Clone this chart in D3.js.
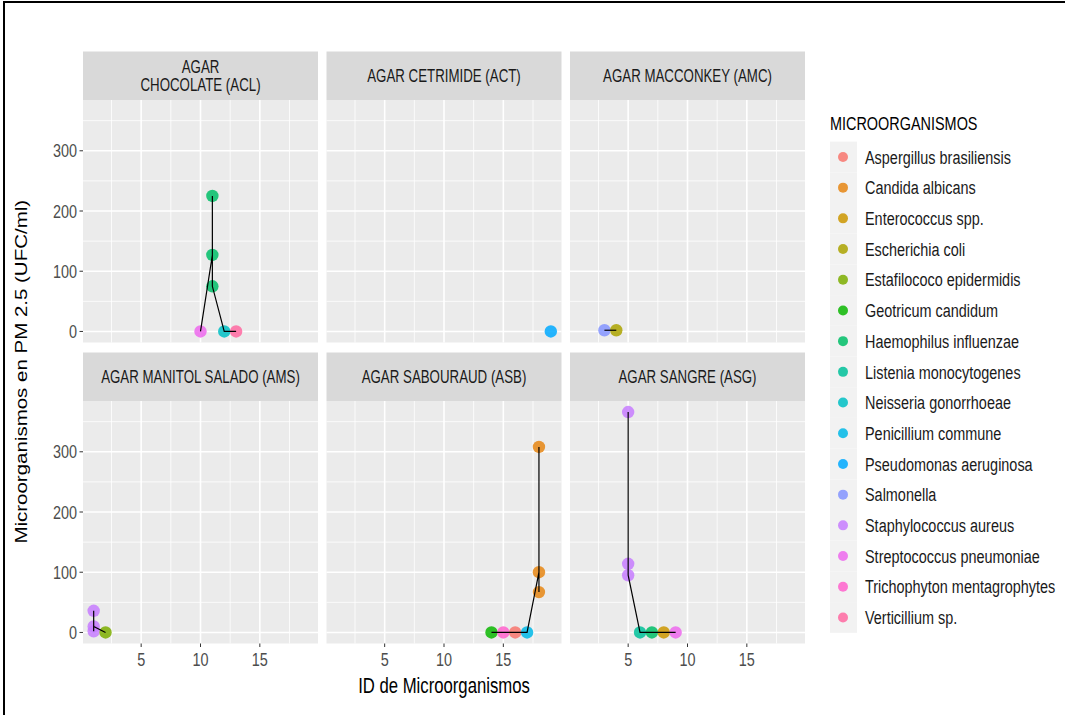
<!DOCTYPE html>
<html>
<head>
<meta charset="utf-8">
<script src="https://cdn.jsdelivr.net/npm/d3@7"></script>
<style>
  html, body { margin: 0; padding: 0; background: #fff; }
  svg { display: block; }
  text { font-family: "Liberation Sans", Arial, sans-serif; }
</style>
</head>
<body>
<svg id="chart" width="1065" height="715"></svg>
<script>
// ---------------- DATA ----------------
const facetLabels = [
  ["AGAR", "CHOCOLATE (ACL)"],
  ["AGAR CETRIMIDE (ACT)"],
  ["AGAR MACCONKEY (AMC)"],
  ["AGAR MANITOL SALADO (AMS)"],
  ["AGAR SABOURAUD (ASB)"],
  ["AGAR SANGRE (ASG)"]
];
const organisms = [
  "Aspergillus brasiliensis", "Candida albicans", "Enterococcus spp.", "Escherichia coli",
  "Estafilococo epidermidis", "Geotricum candidum", "Haemophilus influenzae", "Listenia monocytogenes",
  "Neisseria  gonorrhoeae", "Penicillium commune", "Pseudomonas aeruginosa", "Salmonella",
  "Staphylococcus aureus", "Streptococcus pneumoniae", "Trichophyton mentagrophytes", "Verticillium sp."
];
// one entry per observation (data order matters for the line)
const obsFacet = [0,0,0,0,0,0, 1, 2,2, 3,3,3,3, 4,4,4,4,4,4,4, 5,5,5,5,5,5,5];
const obsId    = [10,11,11,11,12,13, 19, 3,4, 1,1,1,2, 14,15,16,17,18,18,18, 5,5,5,6,7,8,9];
const obsOrg   = [13,6,6,6,8,15, 10, 11,3, 12,12,12,4, 5,14,0,9,1,1,1, 12,12,12,7,6,2,13];
const obsValue = [0,127,225,75,0,0, 0, 2,2, 36,2,10,0, 0,0,0,0,100,308,67, 366,114,95,0,0,0,0];
const xTicks = [5, 10, 15];
const yTicks = [0, 100, 200, 300];
const xMinor = [2.5, 7.5, 12.5, 17.5];
const yMinor = [50, 150, 250, 350];

// ---------------- COLOURS (ggplot hue palette, polar LUV) ----------------
function hclR(h, c, l) {
  const WX = 95.047, WY = 100.0, WZ = 108.883;
  const hr = h * Math.PI / 180;
  const U = c * Math.cos(hr), V = c * Math.sin(hr);
  const Y = l > 7.999592 ? WY * Math.pow((l + 16) / 116, 3) : WY * l / 903.3;
  const den = WX + 15 * WY + 3 * WZ;
  const uN = 4 * WX / den, vN = 9 * WY / den;
  const u = U / (13 * l) + uN, v = V / (13 * l) + vN;
  const X = 9.0 * Y * u / (4 * v);
  const Z = -X / 3 - 5 * Y + 3 * Y / v;
  const g = t => t > 0.00304 ? 1.055 * Math.pow(t, 1 / 2.4) - 0.055 : 12.92 * t;
  const cl = t => Math.round(255 * Math.max(0, Math.min(1, g(t))));
  const r = cl((3.240479 * X - 1.537150 * Y - 0.498535 * Z) / WY);
  const gg = cl((-0.969256 * X + 1.875992 * Y + 0.041556 * Z) / WY);
  const b = cl((0.055648 * X - 0.204043 * Y + 1.057311 * Z) / WY);
  return d3.rgb(r, gg, b).formatHex();
}
const nOrg = organisms.length;
const palette = d3.range(nOrg).map(i => hclR(15 + i * 360 / nOrg, 100, 65));
const color = d3.scaleOrdinal().domain(d3.range(nOrg)).range(palette);

// ---------------- LAYOUT ----------------
const SX = 0.76;                 // horizontal squeeze of the reference's text
const svg = d3.select("#chart");
const colLeft = [83, 326.5, 570];
const rowTop = [51.5, 352.5];
const panelW = 235, stripH = 48.5, panelH = 242.5;

const x = d3.scaleLinear().domain([0.1, 19.9]).range([0, panelW]);
const y = d3.scaleLinear().domain([-18.35, 384.35]).range([panelH, 0]);

function label(g, px, py, str, size, fill, anchor) {
  g.append("text")
    .attr("transform", `translate(${px},${py}) scale(${SX},1)`)
    .attr("text-anchor", anchor || "middle")
    .attr("dy", "0.35em")
    .style("font-size", size + "px")
    .attr("fill", fill)
    .text(str);
}

// border
svg.append("path").attr("d", "M4,715 V2 H1065").attr("fill", "none")
  .attr("stroke", "#000").attr("stroke-width", 2);

const line = d3.line().x(d => x(d.id)).y(d => y(d.v));

facetLabels.forEach((lab, f) => {
  const col = f % 3, row = Math.floor(f / 3);
  const g = svg.append("g").attr("transform", `translate(${colLeft[col]},${rowTop[row]})`);
  // strip
  g.append("rect").attr("width", panelW).attr("height", stripH).attr("fill", "#D9D9D9");
  if (lab.length === 1) {
    label(g, panelW / 2, stripH / 2, lab[0], 17.5, "#1A1A1A");
  } else {
    label(g, panelW / 2, stripH / 2 - 9, lab[0], 17.5, "#1A1A1A");
    label(g, panelW / 2, stripH / 2 + 9, lab[1], 17.5, "#1A1A1A");
  }
  const p = g.append("g").attr("transform", `translate(0,${stripH})`);
  p.append("rect").attr("width", panelW).attr("height", panelH).attr("fill", "#EBEBEB");
  // minor grid
  xMinor.forEach(t => p.append("line").attr("x1", x(t)).attr("x2", x(t)).attr("y1", 0).attr("y2", panelH)
    .attr("stroke", "#fff").attr("stroke-width", 0.8));
  yMinor.forEach(t => p.append("line").attr("y1", y(t)).attr("y2", y(t)).attr("x1", 0).attr("x2", panelW)
    .attr("stroke", "#fff").attr("stroke-width", 0.8));
  // major grid
  xTicks.forEach(t => p.append("line").attr("x1", x(t)).attr("x2", x(t)).attr("y1", 0).attr("y2", panelH)
    .attr("stroke", "#fff").attr("stroke-width", 1.6));
  yTicks.forEach(t => p.append("line").attr("y1", y(t)).attr("y2", y(t)).attr("x1", 0).attr("x2", panelW)
    .attr("stroke", "#fff").attr("stroke-width", 1.6));

  // data
  const pts = [];
  obsFacet.forEach((ff, i) => { if (ff === f) pts.push({ id: obsId[i], v: obsValue[i], o: obsOrg[i], k: i }); });
  p.selectAll("circle").data(pts).enter().append("circle")
    .attr("cx", d => x(d.id)).attr("cy", d => y(d.v)).attr("r", 6.2)
    .attr("fill", d => color(d.o)).attr("fill-opacity", 0.85);
  const sorted = pts.slice().sort((a, b) => (a.id - b.id) || (a.k - b.k));
  p.append("path").attr("d", line(sorted)).attr("fill", "none")
    .attr("stroke", "#000").attr("stroke-width", 1.2);

  // y axis on left column
  if (col === 0) {
    yTicks.forEach(t => {
      p.append("line").attr("x1", -3.5).attr("x2", 0).attr("y1", y(t)).attr("y2", y(t))
        .attr("stroke", "#333").attr("stroke-width", 1);
      label(p, -6, y(t), String(t), 19, "#4D4D4D", "end");
    });
  }
  // x axis on bottom row
  if (row === 1) {
    xTicks.forEach(t => {
      p.append("line").attr("x1", x(t)).attr("x2", x(t)).attr("y1", panelH).attr("y2", panelH + 3.5)
        .attr("stroke", "#333").attr("stroke-width", 1);
      label(p, x(t), panelH + 16, String(t), 19, "#4D4D4D");
    });
  }
});

// axis titles
label(svg, (colLeft[0] + colLeft[2] + panelW) / 2, 685, "ID de Microorganismos", 22, "#000");
svg.append("text")
  .attr("transform", `translate(22,${(rowTop[0] + stripH + rowTop[1] + stripH + panelH) / 2}) rotate(-90) scale(1,${SX})`)
  .attr("text-anchor", "middle").attr("dy", "0.35em")
  .style("font-size", "20.5px").attr("fill", "#000")
  .text("Microorganismos en PM 2.5 (UFC/ml)");

// legend
const lg = svg.append("g").attr("transform", "translate(830,0)");
label(lg, 0, 123, "MICROORGANISMOS", 19, "#000", "start");
const keyH = 30.7, keyTop = 141.6;
organisms.forEach((name, i) => {
  const cy = keyTop + keyH * (i + 0.5);
  lg.append("rect").attr("x", 0).attr("y", keyTop + keyH * i).attr("width", 27).attr("height", keyH)
    .attr("fill", "#F2F2F2");
  lg.append("circle").attr("cx", 13).attr("cy", cy).attr("r", 5).attr("fill", color(i)).attr("fill-opacity", 0.85);
  label(lg, 35, cy, name, 19, "#1A1A1A", "start");
});
</script>
</body>
</html>
